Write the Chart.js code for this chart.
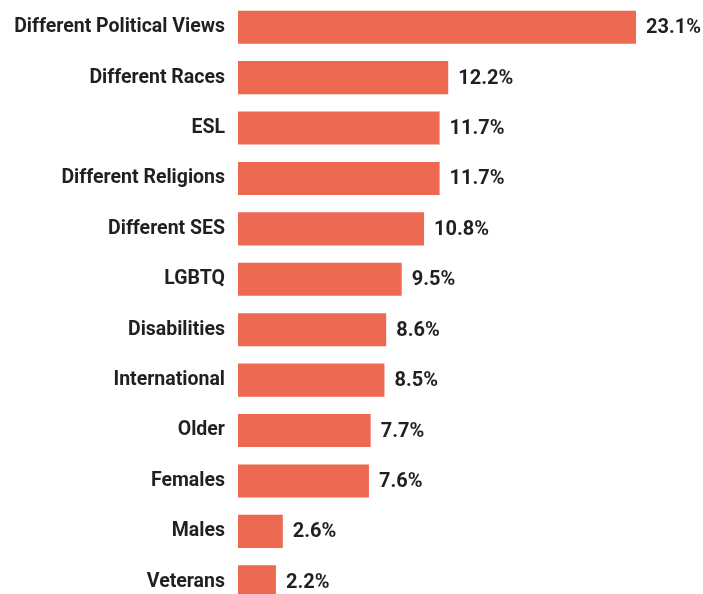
<!DOCTYPE html>
<html>
<head>
<meta charset="utf-8">
<script src="https://cdn.jsdelivr.net/npm/chart.js@4"></script>
<style>
    html, body { margin: 0; padding: 0; background: #fff; overflow: hidden; }
    canvas { display: block; }
</style>
</head>
<body>
<canvas id="groupsChart" width="703" height="607"></canvas>
<script>
const groups = ['Different Political Views', 'Different Races', 'ESL', 'Different Religions',
    'Different SES', 'LGBTQ', 'Disabilities', 'International', 'Older', 'Females', 'Males', 'Veterans'];
const shares = [23.1, 12.2, 11.7, 11.7, 10.8, 9.5, 8.6, 8.5, 7.7, 7.6, 2.6, 2.2];

const barColor = '#ec6952';
const textColor = '#231f20';
const fontFamily = 'Roboto, "Open Sans", sans-serif';

// Writes the percentage just past the end of each bar
const valueLabels = {
    id: 'valueLabels',
    afterDatasetsDraw(chart) {
        const ctx = chart.ctx;
        const meta = chart.getDatasetMeta(0);
        ctx.save();
        ctx.font = `bold 20px ${fontFamily}`;
        ctx.fillStyle = textColor;
        ctx.textAlign = 'left';
        ctx.textBaseline = 'middle';
        meta.data.forEach((bar, i) => {
            ctx.fillText(shares[i].toFixed(1) + '%', bar.x + 10, bar.y + 1);
        });
        ctx.restore();
    }
};

const ctx = document.getElementById('groupsChart').getContext('2d');
new Chart(ctx, {
    type: 'bar',
    data: {
        labels: groups,
        datasets: [{
            data: shares,
            backgroundColor: barColor,
            borderWidth: 0,
            categoryPercentage: 1,
            barPercentage: 0.655
        }]
    },
    options: {
        indexAxis: 'y',
        responsive: false,
        animation: false,
        layout: { padding: { left: 0, right: 17, top: 2, bottom: 0 } },
        scales: {
            x: {
                min: 0,
                max: 26,
                display: false,
                grid: { display: false }
            },
            y: {
                grid: { display: false, drawTicks: false },
                border: { display: false },
                afterFit(scale) {
                    // fixed label column, no extra room above/below the bars
                    scale.width = 238;
                    scale.paddingTop = 0;
                    scale.paddingBottom = 0;
                },
                ticks: {
                    padding: 13,
                    color: textColor,
                    font: { family: fontFamily, size: 19.5, weight: 'bold' }
                }
            }
        },
        plugins: {
            legend: { display: false },
            tooltip: { enabled: false }
        }
    },
    plugins: [valueLabels]
});
</script>
</body>
</html>
